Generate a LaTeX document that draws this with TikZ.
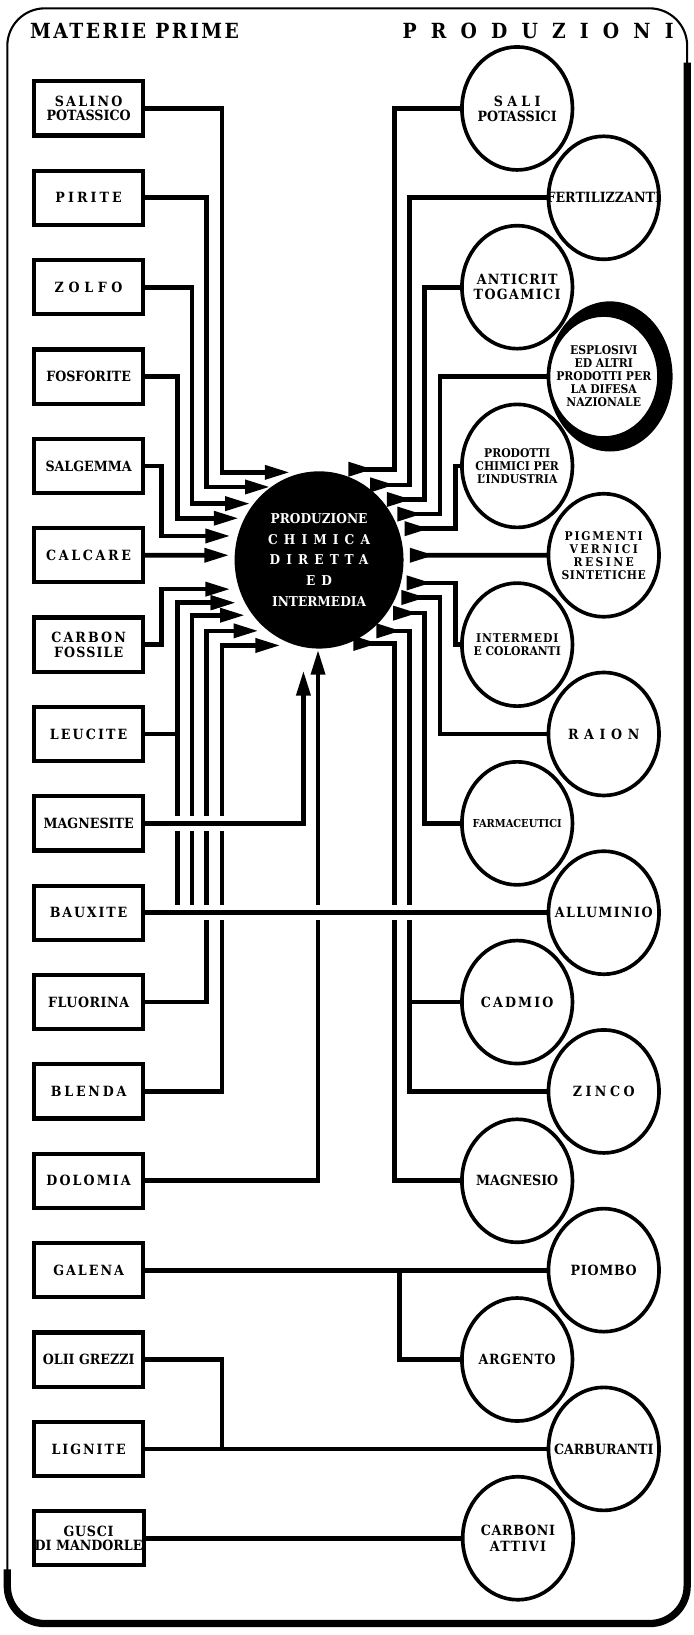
\documentclass[tikz,border=0pt]{standalone}
\usepackage{fontspec}
\usetikzlibrary{arrows.meta,positioning,shapes.geometric}
\newfontfamily\lbl{DejaVu Serif Condensed}
\newcommand{\ls}[2]{{\addfontfeature{LetterSpace=#1}#2}}

\begin{document}
\begin{tikzpicture}[x=1pt,y=-1pt,
node distance=33.7pt,
raw/.style={draw,line width=4pt,outer sep=0pt,minimum width=104pt,minimum height=52pt,inner sep=1pt,align=center,font=\lbl\bfseries\fontsize{13.5}{14}\selectfont},
prod/.style={ellipse,draw,fill=white,line width=3.5pt,outer sep=0pt,minimum width=106pt,minimum height=118pt,inner sep=-25pt,align=center,font=\lbl\bfseries\fontsize{13.5}{14.5}\selectfont},
small/.style={font=\lbl\bfseries\fontsize{11.5}{12.5}\selectfont},
hub/.style={ellipse,fill=black,text=white,outer sep=0pt,minimum width=162pt,minimum height=170pt,inner sep=-25pt,align=center,font=\lbl\bfseries\fontsize{13}{20}\selectfont},
title/.style={font=\lbl\bfseries\fontsize{20}{22}\selectfont},
wire/.style={line width=4.5pt},
feed/.style={wire,-{Triangle[length=24pt,width=13pt]}},
yield/.style={wire,-{Triangle[length=24pt,width=13pt,reversed]}},
bridge/.style={white,line width=14pt}]
\useasboundingbox (0,0) rectangle (665,1568);
% frame
\draw[line width=2pt,rounded corners=36pt] (7,8) rectangle (659,1557);
\draw[line width=7pt,rounded corners=36pt] (659,60) -- (659,1557) -- (7,1557) -- (7,1505);
\node[title] (mp) at (129,30) {\ls{12}{MATERIE PRIME}};
\node[title] (pz) at (516,30) {\ls{68}{PRODUZIONI}};
% hub
\node[hub] (hub) at (306,537) {PRODUZIONE\\\ls{45}{CHIMICA}\\\ls{45}{DIRETTA}\\\ls{45}{ED}\\INTERMEDIA};
% raw materials
\node[raw] (salino) at (85,104) {\ls{16}{SALINO}\\POTASSICO};
\node[raw,below=of salino] (pirite) {\ls{22}{PIRITE}};
\node[raw,below=of pirite] (zolfo) {\ls{33}{ZOLFO}};
\node[raw,below=of zolfo] (fosforite) {FOSFORITE};
\node[raw,below=of fosforite] (salgemma) {SALGEMMA};
\node[raw,below=of salgemma] (calcare) {\ls{19}{CALCARE}};
\node[raw,below=of calcare] (carbon) {\ls{15}{CARBON}\\\ls{8}{FOSSILE}};
\node[raw,below=of carbon] (leucite) {\ls{15}{LEUCITE}};
\node[raw,below=of leucite] (magnesite) {MAGNESITE};
\node[raw,below=of magnesite] (bauxite) {\ls{13}{BAUXITE}};
\node[raw,below=of bauxite] (fluorina) {\ls{4}{FLUORINA}};
\node[raw,below=of fluorina] (blenda) {\ls{20}{BLENDA}};
\node[raw,below=of blenda] (dolomia) {\ls{15}{DOLOMIA}};
\node[raw,below=of dolomia] (galena) {\ls{14}{GALENA}};
\node[raw,below=of galena] (olii) {OLII GREZZI};
\node[raw,below=of olii] (lignite) {\ls{14}{LIGNITE}};
\node[raw,below=of lignite] (gusci) {\ls{5}{GUSCI}\\DI MANDORLE};
% products
\node[prod,right=306pt of salino] (sali) {\ls{30}{SALI}\\POTASSICI};
\node[prod,right=389pt of pirite] (fert) {FERTILIZZANTI};
\node[prod,right=306pt of zolfo] (anticrit) {\ls{8}{ANTICRIT}\\\ls{10}{TOGAMICI}};
\fill (585,361) ellipse [x radius=60pt,y radius=72pt];
\node[prod,small,right=389pt of fosforite] (espl) {ESPLOSIVI\\ED ALTRI\\PRODOTTI PER\\LA DIFESA\\NAZIONALE};
\node[prod,small,right=306pt of salgemma] (prodotti) {PRODOTTI\\CHIMICI PER\\L’INDUSTRIA};
\node[prod,small,right=389pt of calcare] (pigmenti) {\ls{15}{PIGMENTI}\\\ls{20}{VERNICI}\\\ls{20}{RESINE}\\\ls{5}{SINTETICHE}};
\node[prod,small,right=306pt of carbon] (intermedi) {\ls{8}{INTERMEDI}\\E COLORANTI};
\node[prod,right=389pt of leucite] (raion) {\ls{40}{RAION}};
\node[prod,right=306pt of magnesite,font=\lbl\bfseries\fontsize{10.5}{12}\selectfont] (farma) {FARMACEUTICI};
\node[prod,right=389pt of bauxite] (allum) {\ls{10}{ALLUMINIO}};
\node[prod,right=306pt of fluorina] (cadmio) {\ls{15}{CADMIO}};
\node[prod,right=389pt of blenda] (zinco) {\ls{25}{ZINCO}};
\node[prod,right=306pt of dolomia] (magnesio) {MAGNESIO};
\node[prod,right=389pt of galena] (piombo) {\ls{5}{PIOMBO}};
\node[prod,right=306pt of olii] (argento) {\ls{5}{ARGENTO}};
\node[prod,right=389pt of lignite] (carbur) {CARBURANTI};
\node[prod,right=306pt of gusci] (carboni) {\ls{5}{CARBONI}\\\ls{10}{ATTIVI}};
% arrow ends round the hub
\foreach \n/\x/\y in {1/278/453,2/259/467,3/240/483,4/229/497,5/221/514,6/220/532.5,7/221/565,8/226/578,9/235/590,10/248/605,11/269/619,12/291/643,13/305/623}
  \coordinate (in\n) at (\x,\y);
\foreach \n/\x/\y in {1/334/450,2/355/465,3/371/479,4/381/493,5/388/507,6/393/532.5,7/390/559,8/385/573,9/377/588,10/361/605,11/339/617}
  \coordinate (out\n) at (\x,\y);
% into the hub
\draw[feed] (salino.east) -- ++(76,0) |- (in1);
\draw[feed] (pirite.east) -- ++(61,0) |- (in2);
\draw[feed] (zolfo.east) -- ++(47,0) |- (in3);
\draw[feed] (fosforite.east) -- ++(33,0) |- (in4);
\draw[feed] (salgemma.east) -- ++(18,0) |- (in5);
\draw[feed] (calcare.east) -- (in6);
\draw[feed] (carbon.east) -- ++(18,0) |- (in7);
\draw[feed] (leucite.east) -- ++(33,0) |- (in8);
\draw[feed] (bauxite.east) -- ++(33,0) |- (in8);
\draw[feed] (bauxite.east) -- ++(47,0) |- (in9);
\draw[feed] (fluorina.east) -- ++(61,0) |- (in10);
\draw[feed] (blenda.east) -- ++(76,0) |- (in11);
\draw[feed] (dolomia.east) -| (in13);
% out of the hub
\draw[yield] (sali.west) -- ++(-65,0) |- (out1);
\draw[yield] (fert.west) -- ++(-133,0) |- (out2);
\draw[yield] (anticrit.west) -- ++(-36,0) |- (out3);
\draw[yield] (espl.west) -- ++(-104,0) |- (out4);
\draw[yield] (prodotti.west) -- ++(-6,0) |- (out5);
\draw[yield] (pigmenti.west) -- (out6);
\draw[yield] (intermedi.west) -- ++(-6,0) |- (out7);
\draw[yield] (raion.west) -- ++(-104,0) |- (out8);
\draw[yield] (farma.west) -- ++(-36,0) |- (out9);
\draw[yield] (zinco.west) -- ++(-133,0) |- (out10);
\draw[yield] (magnesio.west) -- ++(-65,0) |- (out11);
\draw[wire] (cadmio.west) -- ++(-50,0);
% crossings
\draw[bridge] ([xshift=22pt]magnesite.east) -- ++(70,0);
\draw[feed] (magnesite.east) -| (in12);
\draw[bridge] ([xshift=22pt]bauxite.east) -- ++(265,0);
\draw[wire] (bauxite.east) -- (allum.west);
% direct lines
\draw[wire] (galena.east) -- (piombo.west);
\draw[wire] (galena.east) ++(246,0) |- (argento.west);
\draw[wire] (olii.east) -| ([xshift=76pt]lignite.east);
\draw[wire] (lignite.east) -- (carbur.west);
\draw[wire] (gusci.east) -- (carboni.west);
\end{tikzpicture}
\end{document}
